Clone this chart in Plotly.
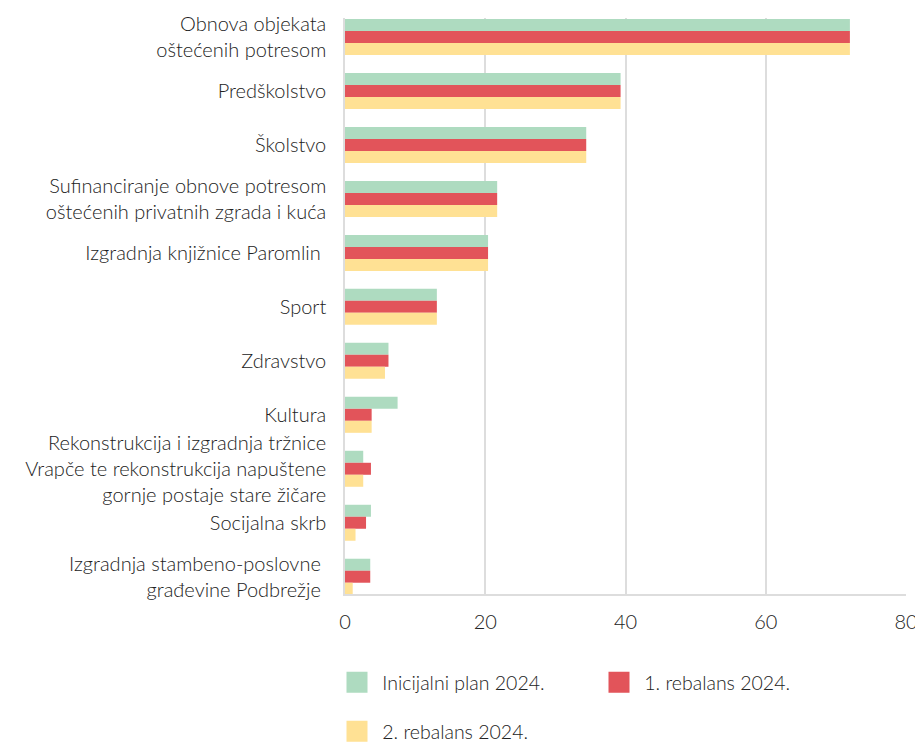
import plotly.graph_objects as go

categories = [
    "Obnova objekata<br>oštećenih potresom",
    "Predškolstvo",
    "Školstvo",
    "Sufinanciranje obnove potresom<br>oštećenih privatnih zgrada i kuća",
    "Izgradnja knjižnice Paromlin ",
    "Sport",
    "Zdravstvo",
    "Kultura",
    "Rekonstrukcija i izgradnja tržnice<br>Vrapče te rekonstrukcija napuštene<br>gornje postaje stare žičare",
    "Socijalna skrb",
    "Izgradnja stambeno-poslovne <br>građevine Podbrežje ",
]
inicijalni = [72.0, 39.3, 34.4, 21.7, 20.4, 13.1, 6.2, 7.5, 2.6, 3.7, 3.6]
rebalans1 = [72.0, 39.3, 34.4, 21.7, 20.4, 13.1, 6.2, 3.8, 3.7, 3.0, 3.6]
rebalans2 = [72.0, 39.3, 34.4, 21.7, 20.4, 13.1, 5.7, 3.8, 2.6, 1.5, 1.1]
series_names = ["Inicijalni plan 2024.", "1. rebalans 2024.", "2. rebalans 2024."]
colors = ["#AEDBC0", "#E2545A", "#FFE194"]
x_ticks = [0, 20, 40, 60, 80]

fig = go.Figure()
for name, vals, col in zip(series_names, [inicijalni, rebalans1, rebalans2], colors):
    fig.add_trace(go.Bar(y=categories, x=vals, orientation="h", name=name,
                         showlegend=False,
                         marker=dict(color=col, line=dict(width=0))))

legend_ids = ["legend", "legend", "legend2"]
for name, col, lg in zip(series_names, colors, legend_ids):
    fig.add_trace(go.Scatter(x=[None], y=[None], mode="markers",
                             name="\u00a0" + name, legend=lg,
                             marker=dict(symbol="square", size=16, color=col,
                                         line=dict(width=5, color=col))))

# the page body has an 8px default margin, so figure coordinates are offset by -8
font_family = "Lato"
txt_color = "#222222"
fig.update_layout(
    width=915, height=736,
    margin=dict(l=337, r=17, t=10, b=150, autoexpand=False),
    barmode="group", bargap=0.333, bargroupgap=0,
    plot_bgcolor="white", paper_bgcolor="white",
    font=dict(family=font_family, size=20, color=txt_color, weight=300),
    xaxis=dict(range=[0, 80], tickvals=x_ticks, showgrid=True, gridcolor="#DDDDDD",
               gridwidth=1.5, zeroline=False, showline=True, linecolor="#DDDDDD",
               linewidth=1.5, ticks="outside", ticklen=9, tickcolor="rgba(0,0,0,0)",
               tickfont=dict(size=20, weight=300, color=txt_color), automargin=False),
    yaxis=dict(range=[10.32, -0.352], showgrid=False, zeroline=False, showline=True,
               linecolor="#DDDDDD", linewidth=1.5, ticks="outside", ticklen=13,
               tickcolor="rgba(0,0,0,0)", tickfont=dict(size=20, weight=300, color=txt_color),
               automargin=False),
    legend=dict(orientation="h", xref="container", x=329/915, xanchor="left",
                yref="container", y=1 - 655/736, yanchor="top",
                entrywidth=217, entrywidthmode="pixels",
                font=dict(size=19.5, weight=300, color=txt_color)),
    legend2=dict(orientation="h", xref="container", x=329/915, xanchor="left",
                 yref="container", y=1 - 704/736, yanchor="top",
                 font=dict(size=19.5, weight=300, color=txt_color)),
)

fig.write_html("out.html")
